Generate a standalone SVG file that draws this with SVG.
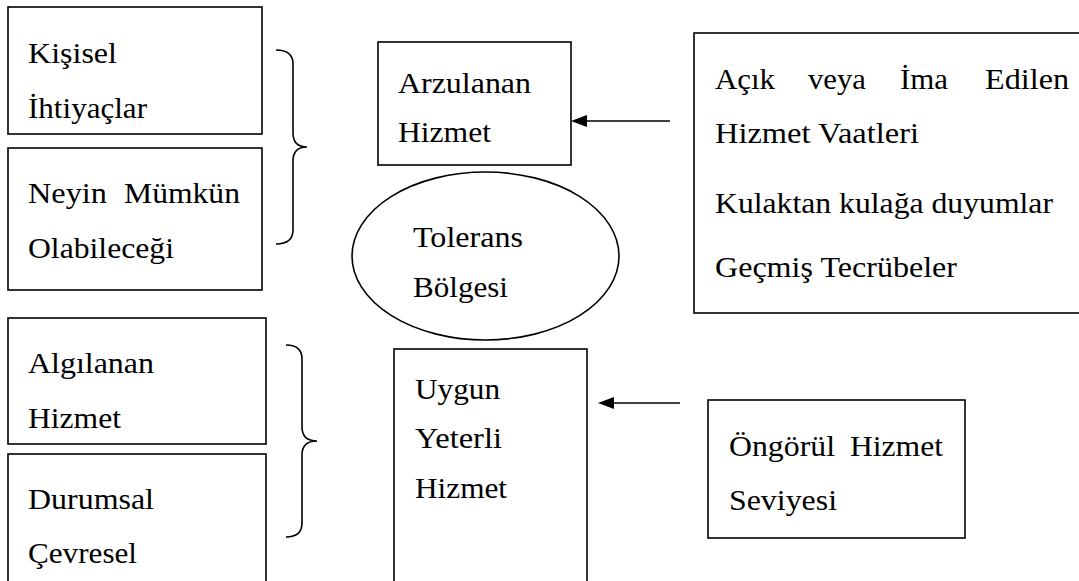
<svg xmlns="http://www.w3.org/2000/svg" width="1079" height="581" viewBox="0 0 1079 581">
<style>
.box{fill:#fff;stroke:#000;stroke-width:1.6}
.br{fill:none;stroke:#000;stroke-width:1.6}
.ln{fill:none;stroke:#000;stroke-width:1.6}
</style>
<g font-family="'Liberation Serif', 'Times New Roman', serif" font-size="29" fill="#000">
<g id="kisisel">
<rect class="box" x="8" y="7" width="254" height="127"/>
<text x="28" y="63" textLength="89" lengthAdjust="spacingAndGlyphs">Kişisel</text>
<text x="28" y="118" textLength="119" lengthAdjust="spacingAndGlyphs">İhtiyaçlar</text>
</g>
<g id="neyin">
<rect class="box" x="8" y="148" width="254" height="142"/>
<text x="28" y="203" textLength="79" lengthAdjust="spacingAndGlyphs">Neyin</text>
<text x="124" y="203" textLength="116" lengthAdjust="spacingAndGlyphs">Mümkün</text>
<text x="28" y="258" textLength="146" lengthAdjust="spacingAndGlyphs">Olabileceği</text>
</g>
<g id="algilanan">
<rect class="box" x="8" y="318" width="258" height="126"/>
<text x="28" y="373" textLength="126" lengthAdjust="spacingAndGlyphs">Algılanan</text>
<text x="28" y="428" textLength="93" lengthAdjust="spacingAndGlyphs">Hizmet</text>
</g>
<g id="durumsal">
<rect class="box" x="8" y="454" width="258" height="160"/>
<text x="28" y="509" textLength="126" lengthAdjust="spacingAndGlyphs">Durumsal</text>
<text x="28" y="563" textLength="109" lengthAdjust="spacingAndGlyphs">Çevresel</text>
</g>
<g id="brace1">
<path class="br" d="M276,50 Q293,50 293,64 L293,133 Q293,147 307,147 Q293,147 293,161 L293,230 Q293,244 276,244"/>
</g>
<g id="brace2">
<path class="br" d="M286,345 Q302,345 302,359 L302,427 Q302,441 317,441 Q302,441 302,455 L302,523 Q302,537 286,537"/>
</g>
<g id="arzulanan">
<rect class="box" x="378" y="42" width="193" height="123"/>
<text x="398" y="93" textLength="133" lengthAdjust="spacingAndGlyphs">Arzulanan</text>
<text x="398" y="142" textLength="93" lengthAdjust="spacingAndGlyphs">Hizmet</text>
</g>
<g id="tolerans">
<ellipse class="box" cx="485.5" cy="256" rx="133.5" ry="84"/>
<text x="413" y="247" textLength="110" lengthAdjust="spacingAndGlyphs">Tolerans</text>
<text x="413" y="297" textLength="95" lengthAdjust="spacingAndGlyphs">Bölgesi</text>
</g>
<g id="uygun">
<rect class="box" x="394" y="349" width="193" height="260"/>
<text x="415" y="399" textLength="85" lengthAdjust="spacingAndGlyphs">Uygun</text>
<text x="415" y="448" textLength="87" lengthAdjust="spacingAndGlyphs">Yeterli</text>
<text x="415" y="498" textLength="92" lengthAdjust="spacingAndGlyphs">Hizmet</text>
</g>
<g id="vaatler">
<rect class="box" x="694" y="33" width="420" height="280"/>
<text x="715" y="89" textLength="60" lengthAdjust="spacingAndGlyphs">Açık</text>
<text x="808" y="89" textLength="58" lengthAdjust="spacingAndGlyphs">veya</text>
<text x="900" y="89" textLength="48" lengthAdjust="spacingAndGlyphs">İma</text>
<text x="985" y="89" textLength="84" lengthAdjust="spacingAndGlyphs">Edilen</text>
<text x="715" y="143" textLength="204" lengthAdjust="spacingAndGlyphs">Hizmet Vaatleri</text>
<text x="715" y="213" textLength="338" lengthAdjust="spacingAndGlyphs">Kulaktan kulağa duyumlar</text>
<text x="715" y="277" textLength="242" lengthAdjust="spacingAndGlyphs">Geçmiş Tecrübeler</text>
</g>
<g id="ongorul">
<rect class="box" x="708" y="400" width="257" height="138"/>
<text x="729" y="456" textLength="106" lengthAdjust="spacingAndGlyphs">Öngörül</text>
<text x="850" y="456" textLength="93" lengthAdjust="spacingAndGlyphs">Hizmet</text>
<text x="729" y="510" textLength="108" lengthAdjust="spacingAndGlyphs">Seviyesi</text>
</g>
</g>
<g id="connectors">
<line class="ln" x1="670" y1="121" x2="585" y2="121"/>
<path d="M571,121 L587,115 L587,127 Z" fill="#000"/>
<line class="ln" x1="680" y1="403" x2="612" y2="403"/>
<path d="M598,403 L614,397 L614,409 Z" fill="#000"/>
</g>
</svg>
